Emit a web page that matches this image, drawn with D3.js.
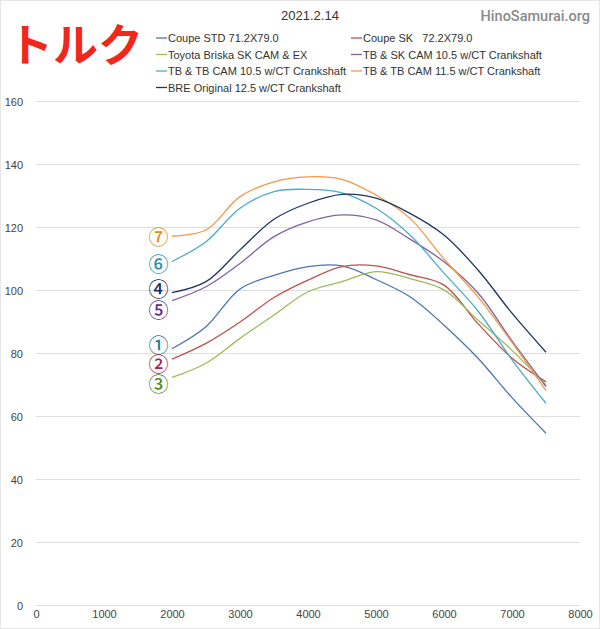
<!DOCTYPE html>
<html><head><meta charset="utf-8">
<script src="https://cdn.jsdelivr.net/npm/d3@7"></script>
<style>
html,body{margin:0;padding:0;background:#fff;}
svg{display:block;}
text{white-space:pre;}
</style>
</head><body>
<script>
const rpm = [2000,2500,3000,3500,4000,4500,5000,5500,6000,6500,7000,7500];
const seriesNames = [
  "Coupe STD 71.2X79.0",
  "Coupe SK   72.2X79.0",
  "Toyota Briska SK CAM & EX",
  "TB & SK CAM 10.5 w/CT Crankshaft",
  "TB & TB CAM 10.5 w/CT Crankshaft",
  "TB & TB CAM 11.5 w/CT Crankshaft",
  "BRE Original 12.5 w/CT Crankshaft"
];
const coupeStd   = [81.5, 88.5, 100.5, 104.8, 107.6, 107.8, 103.5, 98, 89, 78.5, 66, 54.7];
const coupeSk    = [78.2, 83.2, 90, 97.8, 103.3, 107.6, 107.8, 105, 101.7, 89.5, 78.5, 71];
const briska     = [72.4, 76.9, 84.8, 92.2, 99.6, 102.8, 106, 103.8, 100.2, 90.6, 81, 70];
const tbSk105    = [96.8, 101.2, 108.6, 117.1, 121.8, 124, 122.4, 116.3, 109.1, 99.2, 84, 69.5];
const tbTb105    = [109.2, 115.5, 126.1, 131.4, 132.1, 131, 126.1, 117.6, 105.5, 93.5, 78, 64.2];
const tbTb115    = [117.3, 119.2, 129.8, 134.5, 136.1, 135.3, 130.3, 122.9, 110, 98, 83.5, 68.2];
const breOrig    = [99.3, 102.8, 112.9, 122.6, 127.7, 130.5, 129.3, 124.5, 117.6, 106.5, 92.8, 80.4];
const seriesValues = [coupeStd, coupeSk, briska, tbSk105, tbTb105, tbTb115, breOrig];
const seriesColors = ["#4a74b2","#c0504d","#9bbb59","#8064a2","#4bacc6","#f79646","#1f3560"];
const xTicks = [0,1000,2000,3000,4000,5000,6000,7000,8000];
const yTicks = [0,20,40,60,80,100,120,140,160];
const markerText = ["①","②","③","⑤","⑥","⑦","④"];
const markerColors = ["#2b7c92","#a52350","#4f8a2e","#6a2c8c","#2a8fb0","#e08c1e","#1c2a66"];
const markerRpm = 1800;
const markerY = [83, 76.8, 70.5, 94, 108.7, 117, 100.6];
const titleText = "トルク";
const dateText = "2021.2.14";
const siteText = "HinoSamurai.org";

const W = 600, H = 629;
const svg = d3.select("body").append("svg").attr("width", W).attr("height", H);
svg.append("rect").attr("x",0.5).attr("y",0.5).attr("width",W-1).attr("height",H-1)
  .attr("fill","#fff").attr("stroke","#e6e6e6");

const x = d3.scaleLinear().domain([0,8000]).range([36,580]);
const y = d3.scaleLinear().domain([0,160]).range([605.5,101.5]);
const font = "'Liberation Sans', Arial, sans-serif";

// gridlines
svg.append("g").selectAll("line").data(yTicks).join("line")
  .attr("x1", x(0)).attr("x2", x(8000))
  .attr("y1", d => y(d)).attr("y2", d => y(d))
  .attr("stroke", "#dedede").attr("stroke-width", 1);

// y axis labels
const yAxis = d3.axisLeft(y).tickValues(yTicks).tickSize(0).tickPadding(0);
const gy = svg.append("g").attr("transform","translate(23,0)").call(yAxis);
gy.select(".domain").remove();
gy.selectAll("text").attr("font-family", font).attr("font-size", 11).attr("fill","#444");

// x axis labels
const xAxis = d3.axisBottom(x).tickValues(xTicks).tickSize(0).tickPadding(0).tickFormat(d3.format("d"));
const gx = svg.append("g").attr("transform","translate(0,610)").call(xAxis);
gx.select(".domain").remove();
gx.selectAll("text").attr("font-family", font).attr("font-size", 11).attr("fill","#444");

// lines
const line = d3.line().x((d,i) => x(rpm[i])).y(d => y(d)).curve(d3.curveCatmullRom.alpha(0.5));
svg.append("g").selectAll("path").data(seriesValues).join("path")
  .attr("d", d => line(d)).attr("fill","none")
  .attr("stroke", (d,i) => seriesColors[i]).attr("stroke-width", 1.3);

// markers
svg.append("g").selectAll("text").data(markerText).join("text")
  .attr("x", x(markerRpm)).attr("y", (d,i) => y(markerY[i]))
  .attr("text-anchor","middle").attr("dominant-baseline","central")
  .attr("font-family","'Noto Sans CJK JP', sans-serif").attr("font-size", 20).attr("font-weight", 500)
  .attr("fill", (d,i) => markerColors[i]).text(d => d);

// title
svg.append("text").attr("x", 8).attr("y", 62).attr("font-family","'Noto Sans CJK JP', sans-serif")
  .attr("font-weight","bold").attr("font-size", 45).attr("fill","#f0281c").text(titleText);
svg.append("text").attr("x", 310).attr("y", 20).attr("text-anchor","middle")
  .attr("font-family", font).attr("font-size", 13).attr("fill","#333").text(dateText);
svg.append("text").attr("x", 590).attr("y", 21).attr("text-anchor","end")
  .attr("font-family","Roboto, sans-serif").attr("font-weight", 500).attr("font-size", 14.5).attr("fill","#8a8a8a").text(siteText);

// legend
const lg = svg.append("g").selectAll("g").data(seriesNames).join("g")
  .attr("transform", (d,i) => `translate(${i % 2 === 0 ? 156 : 351},${38 + Math.floor(i/2)*16.5})`);
lg.append("line").attr("x1",0).attr("x2",11).attr("y1",0).attr("y2",0)
  .attr("stroke", (d,i) => seriesColors[i]).attr("stroke-width", 1.3);
lg.append("text").attr("x", 12).attr("y", 0).attr("dominant-baseline","central")
  .attr("font-family", font).attr("font-size", 11).attr("fill","#333").text(d => d);
</script>
</body></html>
